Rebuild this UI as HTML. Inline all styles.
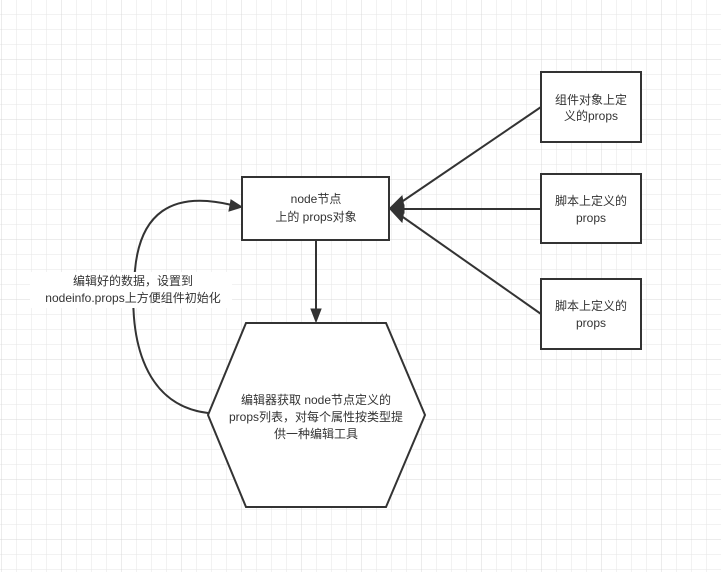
<!DOCTYPE html>
<html><head><meta charset="utf-8"><style>
html,body{margin:0;padding:0;background:#fff;}
svg{display:block}
text{font-family:"Liberation Sans","Noto Sans CJK SC",sans-serif;font-size:12px;fill:#333;text-anchor:middle}
</style></head><body>
<svg width="721" height="572" viewBox="0 0 721 572" xmlns="http://www.w3.org/2000/svg">
<defs>
<pattern id="g" x="1" y="-1" width="15" height="15" patternUnits="userSpaceOnUse">
<path d="M0 0V15M0 0H15" stroke="#e6e6e6" stroke-width="1" fill="none"/>
</pattern>
<pattern id="G" x="1" y="-1" width="60" height="60" patternUnits="userSpaceOnUse">
<path d="M0 0V60M0 0H60" stroke="#d8d8d8" stroke-width="1" fill="none"/>
</pattern>
</defs>
<rect width="721" height="572" fill="url(#g)"/>
<rect width="721" height="572" fill="url(#G)"/>

<g stroke="#333" stroke-width="2" fill="none">
<path d="M208,413 C140,405 128,330 135,270 C140,215 170,190 232,205"/>
<line x1="541" y1="107" x2="400" y2="203"/>
<line x1="541" y1="209" x2="400" y2="209"/>
<line x1="541" y1="314" x2="400" y2="215"/>
<line x1="316" y1="241" x2="316" y2="312"/>
</g>
<g fill="#333" stroke="#333" stroke-width="1">
<polygon points="242,207 229,211 231,200"/>
<polygon points="316,322 311,309 321,309"/>
<polygon points="390,208 402,196 404,207"/>
<polygon points="390,208 404,205 404,213"/>
<polygon points="390,209 402,222 404,210"/>
</g>

<rect x="242" y="177" width="147" height="63" fill="#fff" stroke="#333" stroke-width="2"/>
<text x="316" y="203">node节点</text>
<text x="316" y="221">上的 props对象</text>

<rect x="541" y="72" width="100" height="70" fill="#fff" stroke="#333" stroke-width="2"/>
<text x="591" y="104">组件对象上定</text>
<text x="591" y="120">义的props</text>
<rect x="541" y="174" width="100" height="69" fill="#fff" stroke="#333" stroke-width="2"/>
<text x="591" y="205">脚本上定义的</text>
<text x="591" y="222">props</text>
<rect x="541" y="279" width="100" height="70" fill="#fff" stroke="#333" stroke-width="2"/>
<text x="591" y="310">脚本上定义的</text>
<text x="591" y="327">props</text>

<polygon points="246,323 386,323 425,415 386,507 246,507 208,415" fill="#fff" stroke="#333" stroke-width="2"/>
<text x="316" y="404">编辑器获取 node节点定义的</text>
<text x="316" y="421">props列表，对每个属性按类型提</text>
<text x="316" y="438">供一种编辑工具</text>

<rect x="30" y="272" width="202" height="36" fill="#fff"/>
<text x="133" y="285">编辑好的数据，设置到</text>
<text x="133" y="302">nodeinfo.props上方便组件初始化</text>
</svg>
</body></html>
